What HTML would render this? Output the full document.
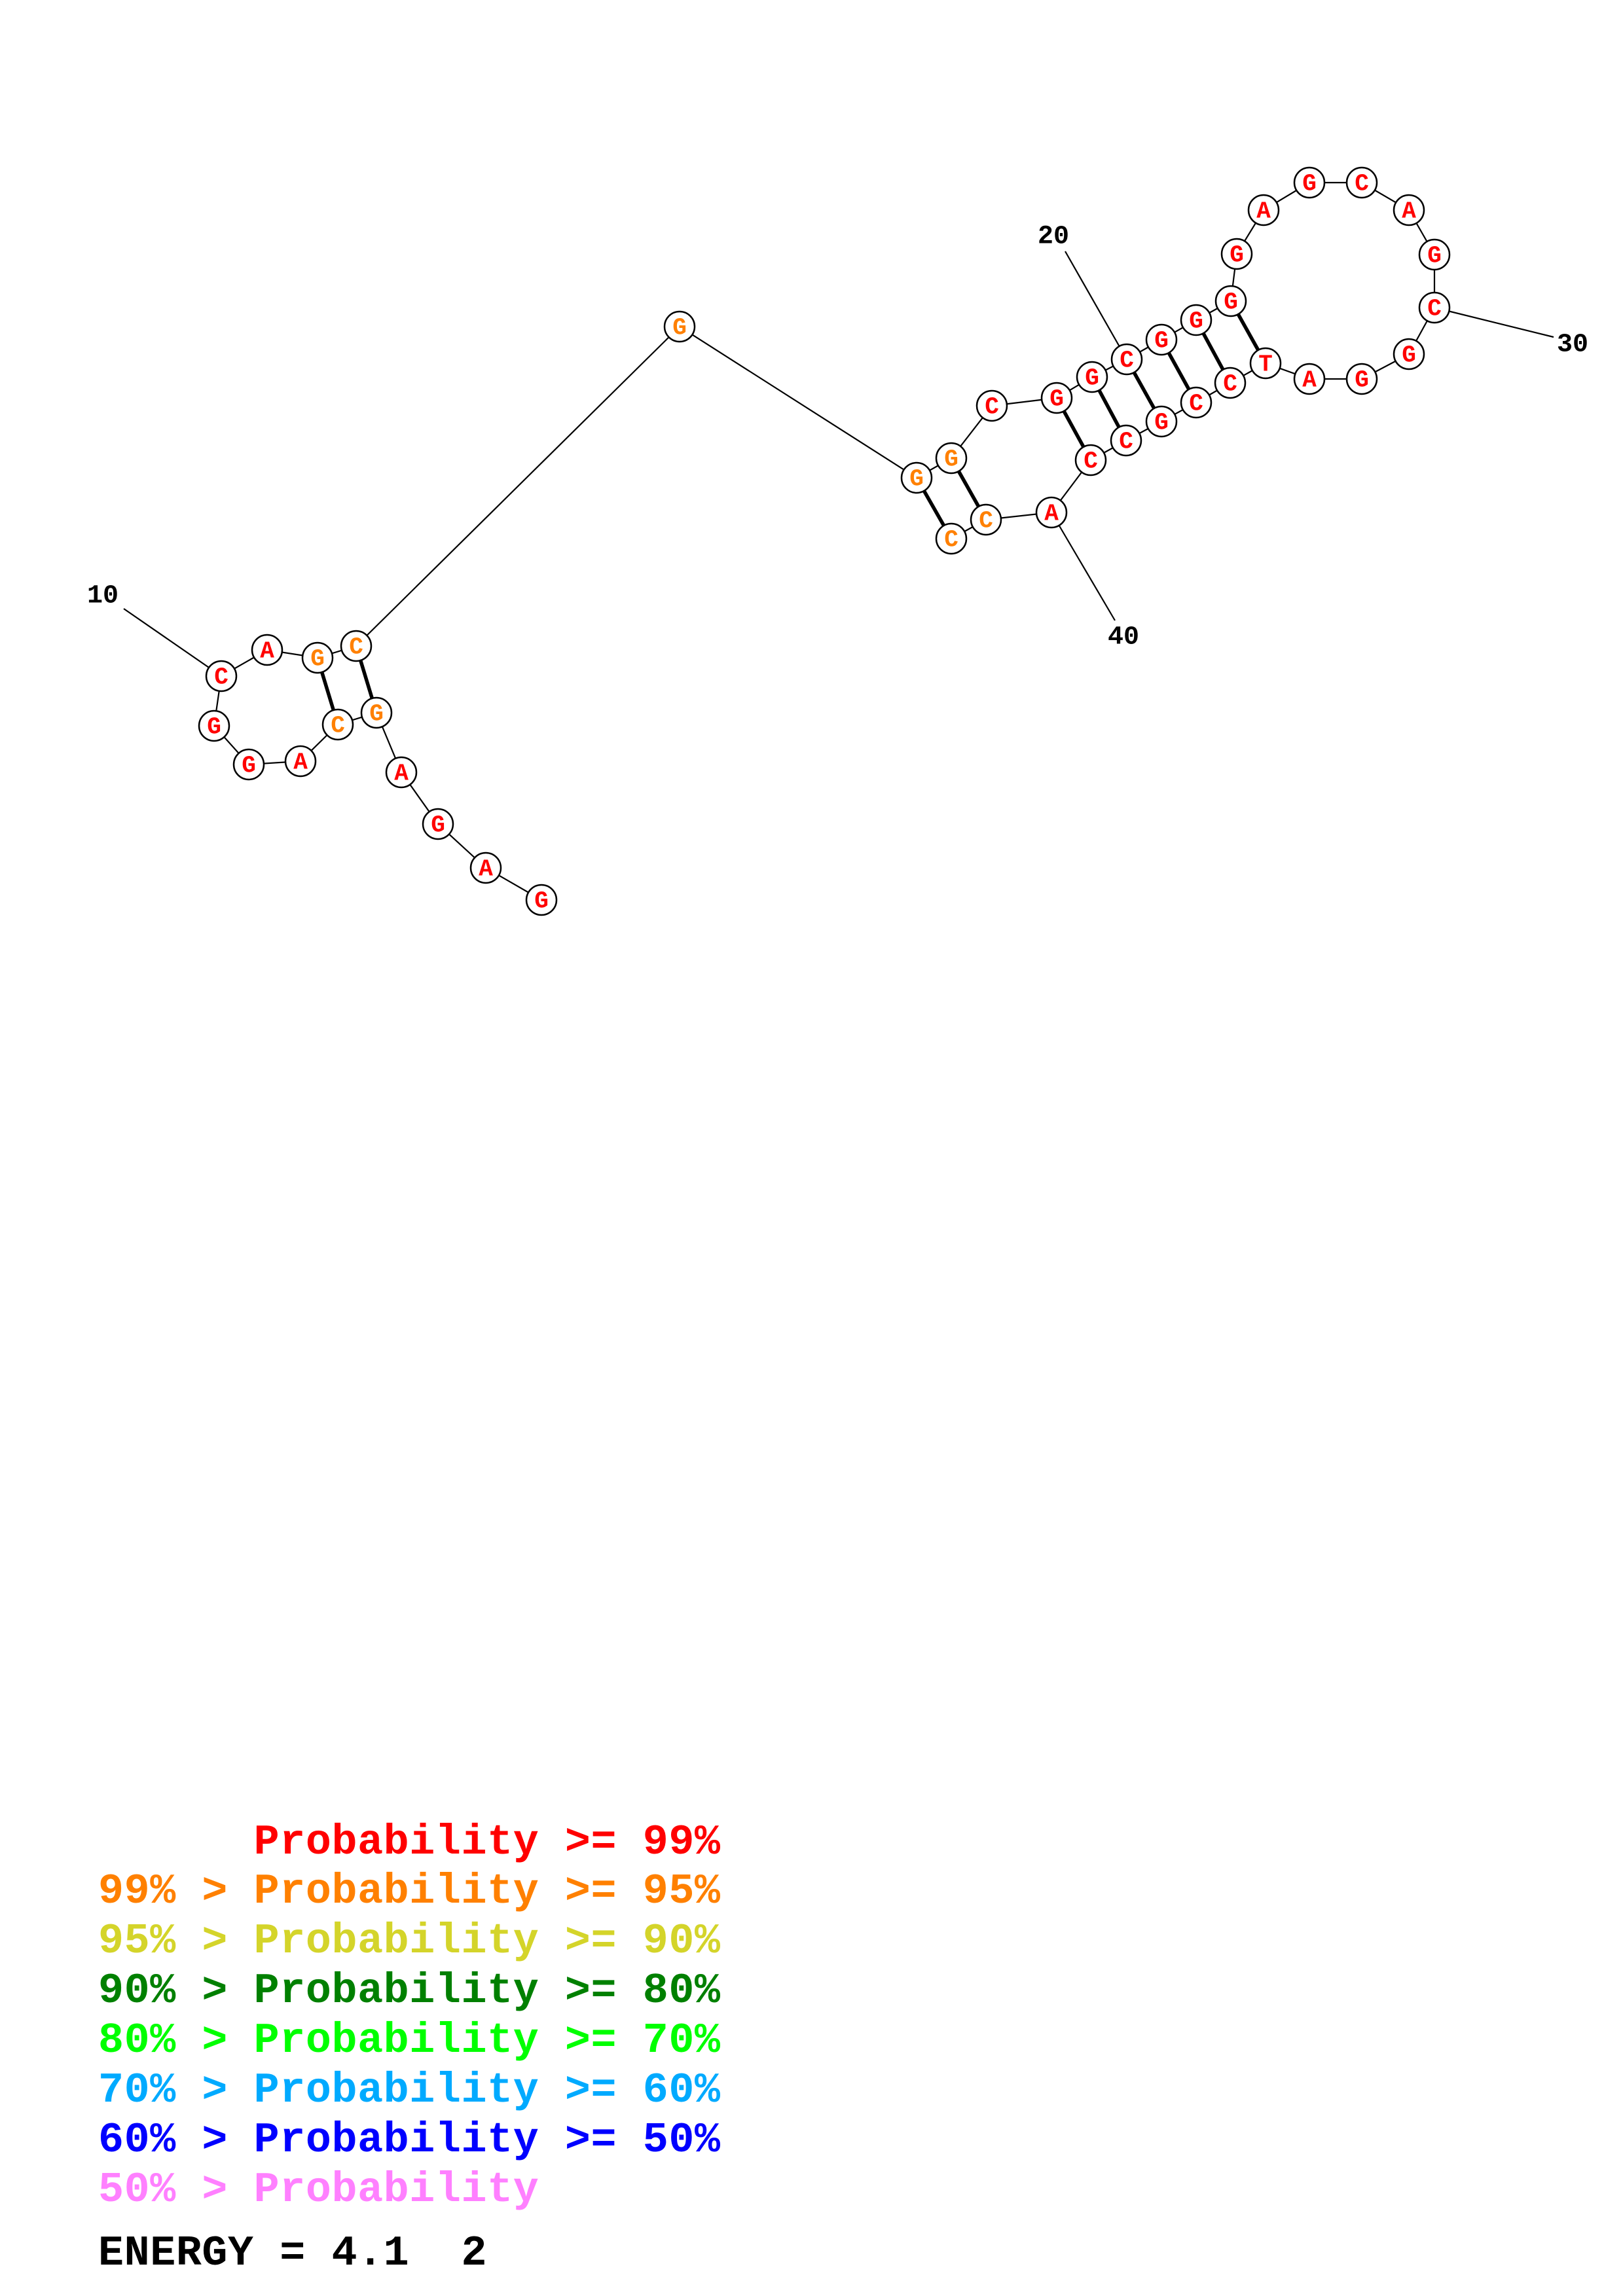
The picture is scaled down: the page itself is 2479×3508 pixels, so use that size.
<!DOCTYPE html>
<html><head><meta charset="utf-8"><style>
html,body{margin:0;padding:0;background:#fff;}
svg{display:block;}
</style></head><body>
<svg width="2479" height="3508" xmlns="http://www.w3.org/2000/svg">
<rect width="2479" height="3508" fill="#fff"/>
<g stroke="#000" stroke-width="2.2" fill="none">
<polyline points="827,1375 742,1326 669,1259 613,1180 575,1089 516,1107 459,1163 380,1168 327,1109 338,1033 408,993 485,1005 544,987 1038,499 1400,730 1453,700 1515,620 1614,608 1668,576 1721,549 1774,519 1827,489 1880,460 1889,388 1930,321 2000,279 2080,279 2152,321 2191,389 2191,470 2152,541 2080,579 2000,579 1933,555 1879,585 1827,615 1774,644 1720,673 1666,703 1606,783 1506,794 1453,823"/>
<line x1="189" y1="930" x2="338" y2="1033"/>
<line x1="1627" y1="384" x2="1721" y2="549"/>
<line x1="2191" y1="470" x2="2373" y2="515"/>
<line x1="1606" y1="783" x2="1703" y2="948"/>
</g>
<g stroke="#000" stroke-width="5.5">
<line x1="485" y1="1005" x2="516" y2="1107"/>
<line x1="544" y1="987" x2="575" y2="1089"/>
<line x1="1400" y1="730" x2="1453" y2="823"/>
<line x1="1453" y1="700" x2="1506" y2="794"/>
<line x1="1614" y1="608" x2="1666" y2="703"/>
<line x1="1668" y1="576" x2="1720" y2="673"/>
<line x1="1721" y1="549" x2="1774" y2="644"/>
<line x1="1774" y1="519" x2="1827" y2="615"/>
<line x1="1827" y1="489" x2="1879" y2="585"/>
<line x1="1880" y1="460" x2="1933" y2="555"/>
</g>
<g font-family="'Liberation Mono',monospace" font-weight="bold" font-size="36" text-anchor="middle" dominant-baseline="central">
<g stroke="#000" stroke-width="2.5" fill="#fff">
<circle cx="827" cy="1375" r="23"/><circle cx="742" cy="1326" r="23"/><circle cx="669" cy="1259" r="23"/><circle cx="613" cy="1180" r="23"/><circle cx="575" cy="1089" r="23"/><circle cx="516" cy="1107" r="23"/><circle cx="459" cy="1163" r="23"/><circle cx="380" cy="1168" r="23"/><circle cx="327" cy="1109" r="23"/><circle cx="338" cy="1033" r="23"/><circle cx="408" cy="993" r="23"/><circle cx="485" cy="1005" r="23"/><circle cx="544" cy="987" r="23"/><circle cx="1038" cy="499" r="23"/><circle cx="1400" cy="730" r="23"/><circle cx="1453" cy="700" r="23"/><circle cx="1515" cy="620" r="23"/><circle cx="1614" cy="608" r="23"/><circle cx="1668" cy="576" r="23"/><circle cx="1721" cy="549" r="23"/><circle cx="1774" cy="519" r="23"/><circle cx="1827" cy="489" r="23"/><circle cx="1880" cy="460" r="23"/><circle cx="1889" cy="388" r="23"/><circle cx="1930" cy="321" r="23"/><circle cx="2000" cy="279" r="23"/><circle cx="2080" cy="279" r="23"/><circle cx="2152" cy="321" r="23"/><circle cx="2191" cy="389" r="23"/><circle cx="2191" cy="470" r="23"/><circle cx="2152" cy="541" r="23"/><circle cx="2080" cy="579" r="23"/><circle cx="2000" cy="579" r="23"/><circle cx="1933" cy="555" r="23"/><circle cx="1879" cy="585" r="23"/><circle cx="1827" cy="615" r="23"/><circle cx="1774" cy="644" r="23"/><circle cx="1720" cy="673" r="23"/><circle cx="1666" cy="703" r="23"/><circle cx="1606" cy="783" r="23"/><circle cx="1506" cy="794" r="23"/><circle cx="1453" cy="823" r="23"/>
</g>
<g fill="#ff0000">
<text x="827" y="1377">G</text><text x="742" y="1328">A</text><text x="669" y="1261">G</text><text x="613" y="1182">A</text><text x="459" y="1165">A</text><text x="380" y="1170">G</text><text x="327" y="1111">G</text><text x="338" y="1035">C</text><text x="408" y="995">A</text><text x="1515" y="622">C</text><text x="1614" y="610">G</text><text x="1668" y="578">G</text><text x="1721" y="551">C</text><text x="1774" y="521">G</text><text x="1827" y="491">G</text><text x="1880" y="462">G</text><text x="1889" y="390">G</text><text x="1930" y="323">A</text><text x="2000" y="281">G</text><text x="2080" y="281">C</text><text x="2152" y="323">A</text><text x="2191" y="391">G</text><text x="2191" y="472">C</text><text x="2152" y="543">G</text><text x="2080" y="581">G</text><text x="2000" y="581">A</text><text x="1933" y="557">T</text><text x="1879" y="587">C</text><text x="1827" y="617">C</text><text x="1774" y="646">G</text><text x="1720" y="675">C</text><text x="1666" y="705">C</text><text x="1606" y="785">A</text>
</g>
<g fill="#ff8000">
<text x="575" y="1091">G</text><text x="516" y="1109">C</text><text x="485" y="1007">G</text><text x="544" y="989">C</text><text x="1038" y="501">G</text><text x="1400" y="732">G</text><text x="1453" y="702">G</text><text x="1506" y="796">C</text><text x="1453" y="825">C</text>
</g>
</g>
<g font-family="'Liberation Mono',monospace" font-weight="bold" font-size="40" text-anchor="middle" dominant-baseline="central" fill="#000">
<text x="157" y="911">10</text>
<text x="1609" y="362">20</text>
<text x="2402" y="527">30</text>
<text x="1716" y="974">40</text>
</g>
<g font-family="'Liberation Mono',monospace" font-weight="bold" font-size="65" letter-spacing="0.6">
<text x="150" y="2832" fill="#ff0000" xml:space="preserve">      Probability &gt;= 99%</text>
<text x="150" y="2907" fill="#ff8000" xml:space="preserve">99% &gt; Probability &gt;= 95%</text>
<text x="150" y="2983" fill="#d4d42a" xml:space="preserve">95% &gt; Probability &gt;= 90%</text>
<text x="150" y="3059" fill="#008000" xml:space="preserve">90% &gt; Probability &gt;= 80%</text>
<text x="150" y="3135" fill="#00ff00" xml:space="preserve">80% &gt; Probability &gt;= 70%</text>
<text x="150" y="3211" fill="#00aaff" xml:space="preserve">70% &gt; Probability &gt;= 60%</text>
<text x="150" y="3287" fill="#0000ff" xml:space="preserve">60% &gt; Probability &gt;= 50%</text>
<text x="150" y="3363" fill="#ff80ff" xml:space="preserve">50% &gt; Probability</text>
<text x="150" y="3460" fill="#000" xml:space="preserve">ENERGY = 4.1  2</text>
</g>
</svg>
</body></html>
